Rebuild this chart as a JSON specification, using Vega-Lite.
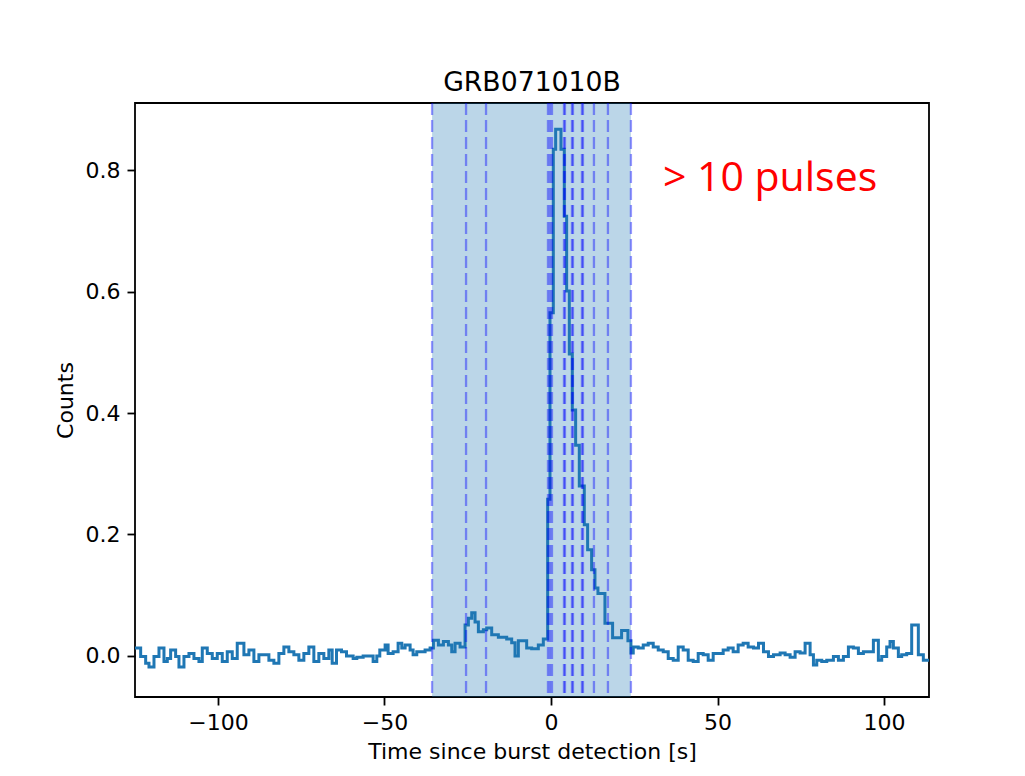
{
  "$schema": "https://vega.github.io/schema/vega-lite/v6.json",
  "autosize": "none",
  "width": 794,
  "height": 594,
  "padding": {"left": 135, "top": 103, "right": 96, "bottom": 79},
  "background": "white",
  "title": {"text": "GRB071010B", "fontSize": 26.7, "fontWeight": "normal", "font": "DejaVu Sans", "color": "black", "offset": 13, "baseline": "alphabetic", "dy": 29},
  "datasets": {
    "span": [{"start": -35.7, "end": 24.0}],
    "pulses": [{"t": -35.7}, {"t": -25.5}, {"t": -19.5}, {"t": -0.9}, {"t": -0.3}, {"t": 0.3}, {"t": 3.9}, {"t": 4.2}, {"t": 6.3}, {"t": 6.6}, {"t": 9.3}, {"t": 9.6}, {"t": 12.9}, {"t": 17.1}, {"t": 24.0}],
    "note": [{"t": 33.6, "c": 0.765, "label": "> 10 pulses"}],
    "lc": [
      {"t": -125.2, "c": 0.013}, {"t": -123.2, "c": -0.001}, {"t": -121.7, "c": -0.012}, {"t": -120.7, "c": -0.018},
      {"t": -119.2, "c": -0.001}, {"t": -117.7, "c": 0.013}, {"t": -116.2, "c": -0.009}, {"t": -115.2, "c": -0.004},
      {"t": -114.2, "c": 0.010}, {"t": -112.7, "c": -0.001}, {"t": -111.7, "c": -0.018}, {"t": -110.2, "c": -0.001},
      {"t": -108.7, "c": 0.004}, {"t": -107.2, "c": -0.004}, {"t": -105.7, "c": -0.009}, {"t": -104.7, "c": 0.013},
      {"t": -103.2, "c": 0.004}, {"t": -101.7, "c": -0.004}, {"t": -100.2, "c": 0.004}, {"t": -98.7, "c": -0.009},
      {"t": -97.2, "c": 0.007}, {"t": -95.7, "c": -0.004}, {"t": -94.2, "c": 0.021}, {"t": -92.2, "c": 0.002},
      {"t": -90.7, "c": 0.010}, {"t": -89.2, "c": -0.009}, {"t": -87.7, "c": 0.002}, {"t": -84.7, "c": -0.007},
      {"t": -83.2, "c": -0.012}, {"t": -81.7, "c": 0.004}, {"t": -80.2, "c": 0.015}, {"t": -78.7, "c": 0.007},
      {"t": -77.2, "c": 0.002}, {"t": -75.7, "c": -0.007}, {"t": -74.2, "c": 0.004}, {"t": -72.7, "c": 0.015},
      {"t": -71.2, "c": -0.009}, {"t": -69.7, "c": 0.004}, {"t": -68.2, "c": -0.004}, {"t": -66.7, "c": 0.010},
      {"t": -65.7, "c": -0.012}, {"t": -64.4, "c": 0.010}, {"t": -62.9, "c": 0.007}, {"t": -61.4, "c": 0.000},
      {"t": -59.4, "c": -0.004}, {"t": -58.3, "c": -0.002}, {"t": -56.4, "c": 0.000}, {"t": -53.4, "c": -0.009},
      {"t": -52.3, "c": 0.000}, {"t": -51.4, "c": 0.010}, {"t": -49.8, "c": 0.018}, {"t": -48.9, "c": 0.004},
      {"t": -47.4, "c": 0.007}, {"t": -45.9, "c": 0.021}, {"t": -44.8, "c": 0.013}, {"t": -43.8, "c": 0.018},
      {"t": -42.3, "c": 0.010}, {"t": -41.4, "c": 0.002}, {"t": -40.3, "c": 0.007}, {"t": -37.8, "c": 0.010},
      {"t": -36.3, "c": 0.013}, {"t": -35.3, "c": 0.026}, {"t": -33.8, "c": 0.018}, {"t": -32.3, "c": 0.024},
      {"t": -30.8, "c": 0.018}, {"t": -29.8, "c": 0.007}, {"t": -28.8, "c": 0.021}, {"t": -27.3, "c": 0.015},
      {"t": -25.8, "c": 0.051}, {"t": -24.8, "c": 0.062}, {"t": -23.8, "c": 0.071}, {"t": -22.8, "c": 0.056},
      {"t": -21.8, "c": 0.040}, {"t": -20.3, "c": 0.043}, {"t": -19.3, "c": 0.046}, {"t": -17.8, "c": 0.035},
      {"t": -15.8, "c": 0.031}, {"t": -13.3, "c": 0.028}, {"t": -11.8, "c": 0.022}, {"t": -10.8, "c": 0.000},
      {"t": -9.8, "c": 0.025}, {"t": -7.3, "c": 0.013}, {"t": -5.8, "c": 0.012}, {"t": -3.8, "c": 0.018},
      {"t": -2.3, "c": 0.028}, {"t": -1.0, "c": 0.258}, {"t": -0.3, "c": 0.565}, {"t": 0.7, "c": 0.834},
      {"t": 1.4, "c": 0.867}, {"t": 3.0, "c": 0.834}, {"t": 4.0, "c": 0.724}, {"t": 4.7, "c": 0.601},
      {"t": 5.5, "c": 0.497}, {"t": 6.4, "c": 0.405}, {"t": 7.4, "c": 0.347}, {"t": 8.5, "c": 0.280},
      {"t": 10.0, "c": 0.216}, {"t": 11.0, "c": 0.175}, {"t": 12.2, "c": 0.142}, {"t": 13.2, "c": 0.112},
      {"t": 14.1, "c": 0.103}, {"t": 16.2, "c": 0.054}, {"t": 18.5, "c": 0.030}, {"t": 21.2, "c": 0.042},
      {"t": 23.1, "c": 0.025}, {"t": 24.0, "c": 0.005}, {"t": 24.7, "c": 0.015}, {"t": 26.2, "c": 0.013},
      {"t": 27.7, "c": 0.018}, {"t": 29.2, "c": 0.021}, {"t": 30.7, "c": 0.015}, {"t": 32.2, "c": 0.010},
      {"t": 33.7, "c": 0.007}, {"t": 35.2, "c": -0.004}, {"t": 36.7, "c": -0.007}, {"t": 38.2, "c": 0.015},
      {"t": 39.7, "c": 0.010}, {"t": 41.2, "c": -0.007}, {"t": 42.7, "c": -0.009}, {"t": 44.2, "c": 0.004},
      {"t": 45.7, "c": 0.002}, {"t": 47.2, "c": -0.007}, {"t": 48.7, "c": 0.004}, {"t": 51.7, "c": 0.010},
      {"t": 53.2, "c": 0.013}, {"t": 54.7, "c": 0.007}, {"t": 56.2, "c": 0.018}, {"t": 57.7, "c": 0.021},
      {"t": 59.2, "c": 0.015}, {"t": 60.8, "c": 0.013}, {"t": 62.3, "c": 0.021}, {"t": 63.8, "c": 0.007},
      {"t": 65.3, "c": -0.001}, {"t": 66.8, "c": 0.002}, {"t": 68.8, "c": 0.005}, {"t": 70.3, "c": 0.002},
      {"t": 71.8, "c": -0.002}, {"t": 73.3, "c": 0.007}, {"t": 74.8, "c": 0.005}, {"t": 76.3, "c": 0.021},
      {"t": 77.8, "c": 0.002}, {"t": 78.8, "c": -0.015}, {"t": 79.8, "c": -0.007}, {"t": 81.3, "c": -0.009},
      {"t": 82.8, "c": -0.007}, {"t": 84.8, "c": -0.001}, {"t": 86.3, "c": -0.007}, {"t": 87.8, "c": -0.001},
      {"t": 89.3, "c": 0.015}, {"t": 90.8, "c": 0.013}, {"t": 92.3, "c": 0.004}, {"t": 93.8, "c": 0.007},
      {"t": 96.8, "c": 0.026}, {"t": 98.3, "c": -0.007}, {"t": 99.3, "c": -0.001}, {"t": 100.8, "c": 0.015},
      {"t": 101.8, "c": 0.024}, {"t": 102.8, "c": 0.013}, {"t": 104.3, "c": -0.001}, {"t": 105.3, "c": 0.002},
      {"t": 106.8, "c": 0.004}, {"t": 108.3, "c": 0.051}, {"t": 110.3, "c": 0.002}, {"t": 111.8, "c": -0.007},
      {"t": 114.0, "c": -0.007}
    ]
  },
  "layer": [
    {
      "data": {"name": "span"},
      "mark": {"type": "rect", "color": "#1f77b4", "opacity": 0.3},
      "encoding": {
        "x": {"field": "start", "type": "quantitative", "scale": {"domain": [-124.9, 113.5], "nice": false, "zero": false},
              "axis": {"values": [-100, -50, 0, 50, 100], "title": "Time since burst detection [s]", "labelFlush": false}},
        "x2": {"field": "end"}
      }
    },
    {
      "data": {"name": "lc"},
      "mark": {"type": "line", "interpolate": "step-after", "color": "#1f77b4", "strokeWidth": 3, "clip": true},
      "encoding": {
        "x": {"field": "t", "type": "quantitative"},
        "y": {"field": "c", "type": "quantitative", "scale": {"domain": [-0.0675, 0.9103], "nice": false, "zero": false},
              "axis": {"values": [0, 0.2, 0.4, 0.6, 0.8], "format": ".1f", "title": "Counts", "labelFlush": false}}
      }
    },
    {
      "mark": {"type": "rule", "color": "gray", "strokeWidth": 3, "strokeDash": [12, 5]},
      "encoding": {"y": {"datum": 0, "type": "quantitative"}}
    },
    {
      "data": {"name": "pulses"},
      "mark": {"type": "rule", "color": "#0000ff", "opacity": 0.4, "strokeWidth": 2.3, "strokeDash": [12, 5]},
      "encoding": {"x": {"field": "t", "type": "quantitative"}}
    },
    {
      "data": {"name": "note"},
      "mark": {"type": "text", "font": "Open Sans", "fontSize": 41, "color": "#ff0000", "align": "left", "baseline": "alphabetic"},
      "encoding": {
        "x": {"field": "t", "type": "quantitative"},
        "y": {"field": "c", "type": "quantitative"},
        "text": {"field": "label"}
      }
    }
  ],
  "config": {
    "view": {"stroke": "black", "strokeWidth": 1.8},
    "axis": {
      "domain": false, "grid": false, "tickColor": "black", "tickWidth": 1.8, "tickSize": 8,
      "labelFont": "DejaVu Sans", "labelFontSize": 22, "labelColor": "black", "labelPadding": 7,
      "titleFont": "DejaVu Sans", "titleFontSize": 22, "titleFontWeight": "normal", "titleColor": "black", "titlePadding": 8
    }
  }
}
